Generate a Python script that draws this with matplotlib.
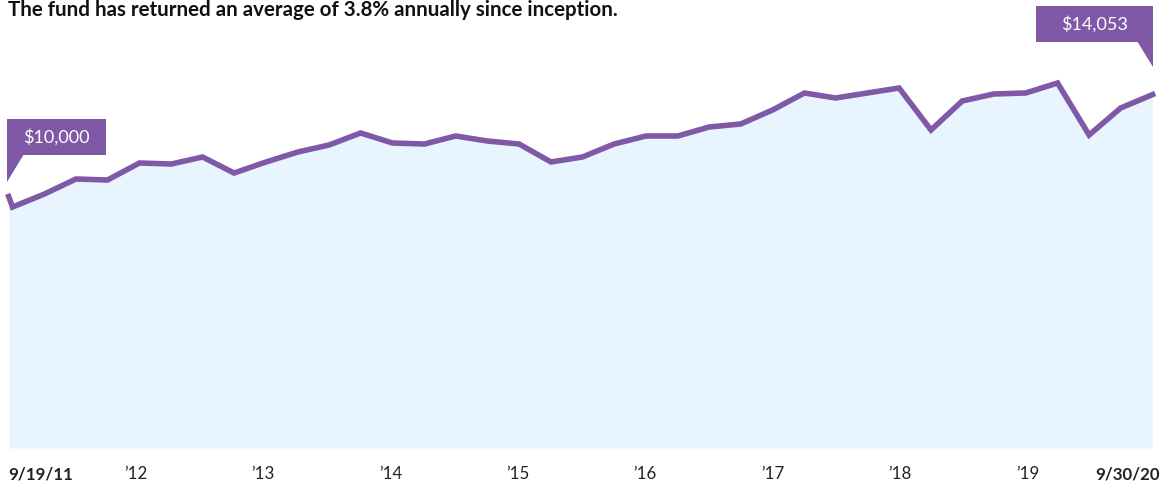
import numpy as np
import pandas as pd
import matplotlib
matplotlib.use("Agg")
import matplotlib.pyplot as plt
from matplotlib.patches import Polygon

# growth of $10,000 (quarter ends after inception)
dates = ["2011-09-19"] + [str(d.date()) for d in pd.date_range("2011-09-30", "2020-09-30", freq="QE")]
values = [10000, 9583, 10099, 10696, 10656, 11332, 11292, 11571, 10934, 11372,
          11769, 12048, 12525, 12127, 12087, 12406, 12207, 12087, 11372, 11571,
          12087, 12406, 12406, 12763, 12883, 13439, 14115, 13917, 14115, 14314,
          12644, 13797, 14076, 14115, 14513, 12445, 13519, 14053]
tick_labels = ["9/19/11", "\u201912", "\u201913", "\u201914", "\u201915", "\u201916",
               "\u201917", "\u201918", "\u201919", "9/30/20"]
title = "The fund has returned an average of 3.8% annually since inception."

purple = "#7f58a6"
fill = "#e8f4fe"
plt.rcParams["font.family"] = ["Lato", "DejaVu Sans"]

W, H = 1173, 484
fig = plt.figure(figsize=(W / 100, H / 100), dpi=100)
# axes box in pixels: x 8..1155, y 8..448 (from top)
ax = fig.add_axes([8 / W, (H - 448) / H, (1155 - 8) / W, 440 / H])

x = pd.to_datetime(dates)
x0, x1 = x[0], x[-1]
ax.fill_between(x, 0, values, color=fill, lw=0, zorder=1)
ax.plot(x, values, color=purple, lw=4, solid_joinstyle="miter", zorder=3, clip_on=False)
ax.set_xlim(x0 - pd.Timedelta(days=2), x1 + pd.Timedelta(days=7))
ax.set_ylim(0, 17495)
for s in ax.spines.values():
    s.set_visible(False)
ax.set_xticks([])
ax.set_yticks([])

# x labels spread evenly under the chart
for i, lab in enumerate(tick_labels):
    px = 8 + i * (1155 - 8) / 9
    ha = "center"
    weight = "normal"
    if i == 0:
        ha, weight, px = "left", "bold", 8
    elif i == len(tick_labels) - 1:
        ha, weight, px = "right", "bold", 1160
    fig.text(px / W, 1 - 474 / H, lab, ha=ha, va="center", fontsize=12.2,
             fontweight=weight, color="#222222")

fig.text(8 / W, 1 - 16 / H, title, ha="left", va="baseline", fontsize=14.8,
         fontweight="bold", color="#111111")


def callout(x0p, x1p, y0p, y1p, tri, text):
    # pixel coords from the top-left, converted to figure fraction
    box = [(x0p, y0p), (x1p, y0p), (x1p, y1p), (x0p, y1p)]
    for pts in (box, tri):
        fig.patches.append(Polygon([(a / W, 1 - b / H) for a, b in pts], closed=True,
                                   transform=fig.transFigure, color=purple, lw=0))
    fig.text((x0p + x1p) / 2 / W, 1 - (y0p + y1p) / 2 / H, text, ha="center",
             va="center", color="white", fontsize=13)


callout(7, 106, 119, 155, [(7, 154), (24, 154), (7, 182)], "$" + f"{values[0]:,}")
callout(1036, 1153, 6, 42, [(1137, 41), (1153, 41), (1153, 67)], "$" + f"{values[-1]:,}")

fig.savefig("out.png", dpi=100)
